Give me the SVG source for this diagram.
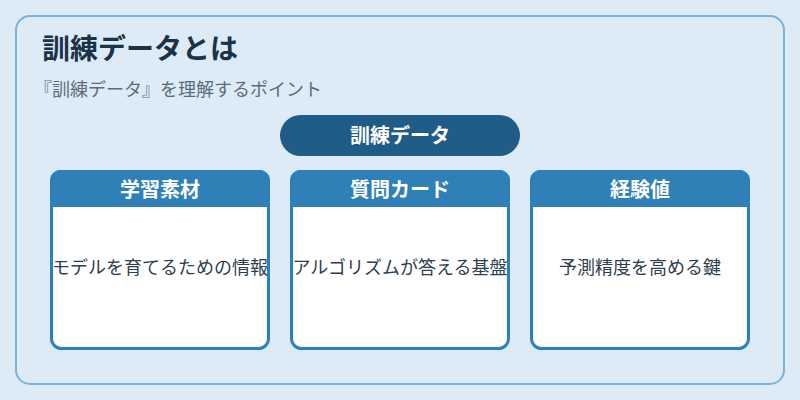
<svg xmlns="http://www.w3.org/2000/svg" width="800" height="400" viewBox="0 0 800 400">
<style>
text{font-family:"Noto Sans CJK JP","Noto Sans",sans-serif}
.card{fill:#ffffff;stroke:#2e80b6;stroke-width:3}
.hdr{fill:#2e80b6}
.ht{fill:#ffffff;font-size:20px;font-weight:bold;text-anchor:middle}
.bt{fill:#2c3e50;font-size:18px;text-anchor:middle}
</style>
<rect x="0" y="0" width="800" height="400" fill="#dcebf6"/>
<rect x="16" y="16" width="768" height="368" rx="14" fill="#dcebf6" stroke="#7fb2d6" stroke-width="2"/>
<g id="title">
<text x="42" y="59" font-size="28" font-weight="bold" fill="#1a3346">訓練データとは</text>
<text x="34" y="96" font-size="18" fill="#5b6b7b">『訓練データ』を理解するポイント</text>
</g>
<g id="root">
<rect x="280" y="115" width="240" height="41" rx="20.5" fill="#1f5c87"/>
<text x="400" y="143" class="ht">訓練データ</text>
</g>
<g id="connectors"></g>
<g id="card1">
<rect x="51.5" y="171.5" width="217" height="177" rx="10" class="card"/>
<path d="M50 207 V180 a10 10 0 0 1 10 -10 H260 a10 10 0 0 1 10 10 V207 Z" class="hdr"/>
<text x="160" y="197" class="ht">学習素材</text>
<text x="160" y="274" class="bt">モデルを育てるための情報</text>
</g>
<g id="card2">
<rect x="291.5" y="171.5" width="217" height="177" rx="10" class="card"/>
<path d="M290 207 V180 a10 10 0 0 1 10 -10 H500 a10 10 0 0 1 10 10 V207 Z" class="hdr"/>
<text x="400" y="197" class="ht">質問カード</text>
<text x="400" y="274" class="bt">アルゴリズムが答える基盤</text>
</g>
<g id="card3">
<rect x="531.5" y="171.5" width="217" height="177" rx="10" class="card"/>
<path d="M530 207 V180 a10 10 0 0 1 10 -10 H740 a10 10 0 0 1 10 10 V207 Z" class="hdr"/>
<text x="640" y="197" class="ht">経験値</text>
<text x="640" y="274" class="bt">予測精度を高める鍵</text>
</g>
</svg>
